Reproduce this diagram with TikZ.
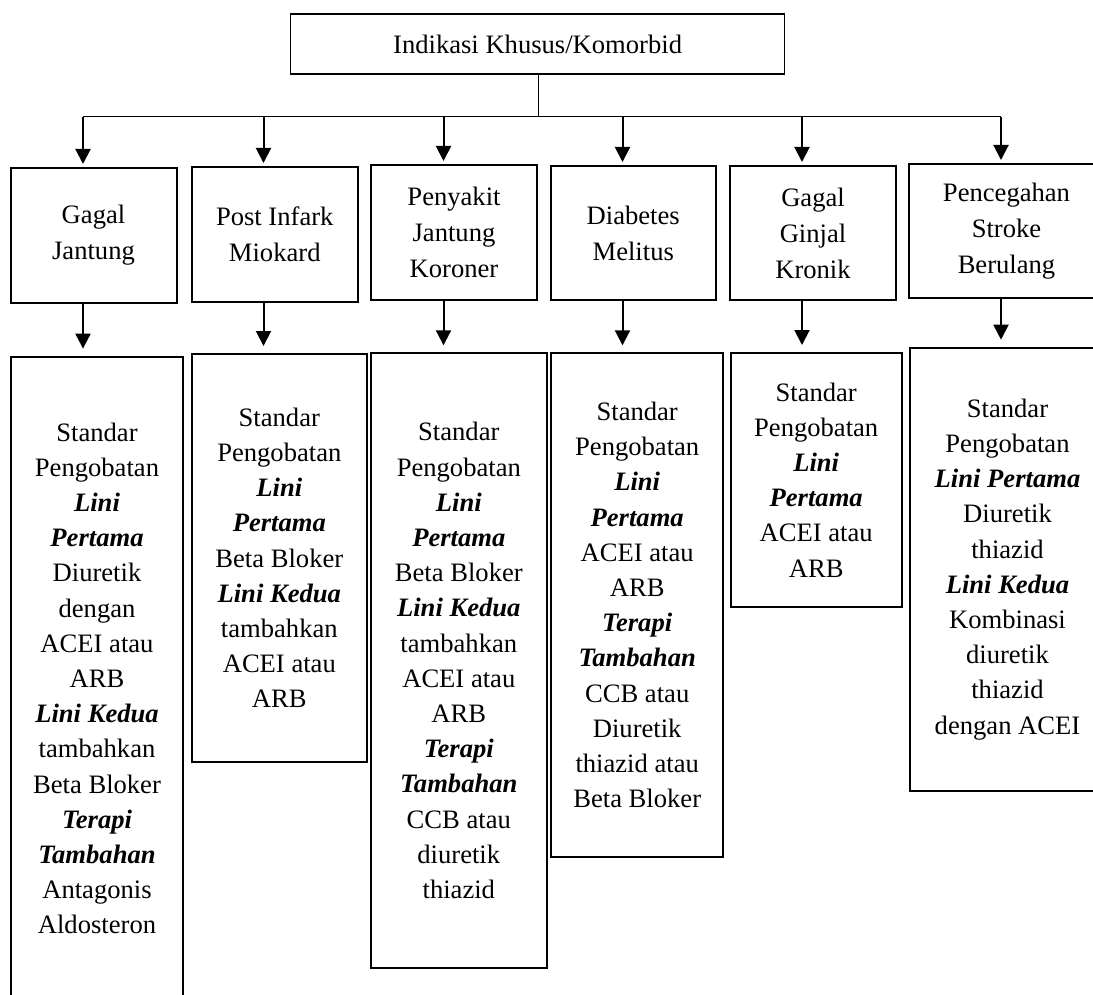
\documentclass[tikz,border=0pt]{standalone}
\usepackage{fontspec}
\setmainfont{Liberation Serif}
\usetikzlibrary{arrows.meta}
\newcommand\bi[1]{\textbf{\textit{#1}}}

\begin{document}
\begin{tikzpicture}[x=0.5pt,y=-0.5pt,
  font=\fontsize{13.3}{17.6}\selectfont,
  box/.style={draw,line width=1pt,inner sep=0pt,align=center},
  midbox/.style={box,font=\fontsize{13.3}{18}\selectfont},
  link/.style={line width=1pt,-{Triangle[length=7.5pt,width=7.5pt]}}]
\useasboundingbox (0,0) rectangle (1093,995);
\clip (0,0) rectangle (1093,995);
% head
\node[draw,line width=0.7pt,minimum width=247pt,minimum height=30pt] (top) at (537.6,44) {Indikasi Khusus/Komorbid};
% indications
\node[midbox,minimum width=83pt,minimum height=67.5pt] (m1) at (93.5,235.5) {Gagal\\Jantung};
\node[midbox,minimum width=82.75pt,minimum height=67.5pt] (m2) at (274.75,234.5) {Post Infark\\Miokard};
\node[midbox,minimum width=83pt,minimum height=67.5pt] (m3) at (454,232.5) {Penyakit\\Jantung\\Koroner};
\node[midbox,minimum width=82.75pt,minimum height=67pt] (m4) at (633.25,233) {Diabetes\\Melitus};
\node[midbox,minimum width=83pt,minimum height=67pt] (m5) at (813,233) {Gagal\\Ginjal\\Kronik};
\node[midbox,minimum width=97.5pt,minimum height=67pt] (m6) at (1006.5,231) {Pencegahan\\Stroke\\Berulang};
% treatments
\node[box,minimum width=86pt,minimum height=321.7pt] (b1) at (97,678.3)
  {Standar\\Pengobatan\\\bi{Lini}\\\bi{Pertama}\\Diuretik\\dengan\\ACEI atau\\ARB\\\bi{Lini Kedua}\\tambahkan\\Beta Bloker\\\bi{Terapi}\\\bi{Tambahan}\\Antagonis\\Aldosteron};
\node[box,minimum width=87.35pt,minimum height=204pt] (b2) at (279.3,558)
  {Standar\\Pengobatan\\\bi{Lini}\\\bi{Pertama}\\Beta Bloker\\\bi{Lini Kedua}\\tambahkan\\ACEI atau\\ARB};
\node[box,minimum width=87.85pt,minimum height=307.2pt] (b3) at (458.8,660.5)
  {Standar\\Pengobatan\\\bi{Lini}\\\bi{Pertama}\\Beta Bloker\\\bi{Lini Kedua}\\tambahkan\\ACEI atau\\ARB\\\bi{Terapi}\\\bi{Tambahan}\\CCB atau\\diuretik\\thiazid};
\node[box,minimum width=86.15pt,minimum height=251.7pt] (b4) at (637.2,605)
  {Standar\\Pengobatan\\\bi{Lini}\\\bi{Pertama}\\ACEI atau\\ARB\\\bi{Terapi}\\\bi{Tambahan}\\CCB atau\\Diuretik\\thiazid atau\\Beta Bloker};
\node[box,minimum width=85.5pt,minimum height=127pt] (b5) at (816.2,480)
  {Standar\\Pengobatan\\\bi{Lini}\\\bi{Pertama}\\ACEI atau\\ARB};
\node[box,minimum width=97.5pt,minimum height=221.7pt] (b6) at (1007.5,569.4)
  {Standar\\Pengobatan\\\bi{Lini Pertama}\\Diuretik\\thiazid\\\bi{Lini Kedua}\\Kombinasi\\diuretik\\thiazid\\dengan ACEI};
% branches
\coordinate (hub) at (538.7,116.7);
\coordinate (t1) at (83,116.7);
\coordinate (t2) at (263.5,116.7);
\coordinate (t3) at (443.5,116.7);
\coordinate (t4) at (622.5,116.7);
\coordinate (t5) at (802,116.7);
\coordinate (t6) at (1001,116.7);
\draw[line width=0.5pt] (hub |- top.south) -- (hub);
\draw[line width=0.75pt] (t1) -- (t6);
\foreach \i in {1,...,6}
  \draw[link,shorten >=1.5pt] (t\i) -- (t\i |- m\i.north);
\foreach \i in {1,...,6}
  \draw[link,shorten >=3.5pt] (t\i |- m\i.south) -- (t\i |- b\i.north);
\end{tikzpicture}
\end{document}
